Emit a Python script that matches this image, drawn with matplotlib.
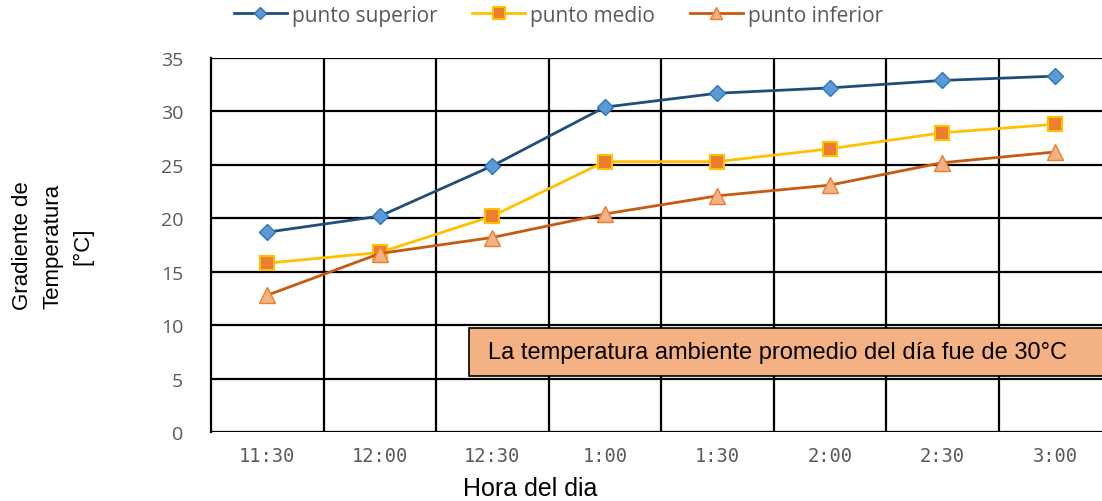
import matplotlib.pyplot as plt
from matplotlib.patches import Rectangle

# datos de temperatura por hora
horas = ['11:30', '12:00', '12:30', '1:00', '1:30', '2:00', '2:30', '3:00']
punto_superior = [18.7, 20.2, 24.9, 30.4, 31.7, 32.2, 32.9, 33.3]
punto_medio = [15.8, 16.8, 20.2, 25.3, 25.3, 26.5, 28.0, 28.8]
punto_inferior = [12.8, 16.7, 18.2, 20.4, 22.1, 23.1, 25.2, 26.2]
y_ticks = [0, 5, 10, 15, 20, 25, 30, 35]

gray = '#595959'

fig = plt.figure(figsize=(11.02, 5.02), dpi=100)
ax = fig.add_axes([0.1915, 0.1375, 0.8167, 0.745])

x = range(len(horas))
ax.plot(x, punto_superior, color='#1F4E79', lw=2, marker='D', ms=8,
        mfc='#5B9BD5', mec='#2E75B6', mew=1, label='punto superior', zorder=5)
ax.plot(x, punto_medio, color='#FFC000', lw=2, marker='s', ms=10,
        mfc='#ED7D31', mec='#FFC000', mew=1.5, label='punto medio', zorder=5)
ax.plot(x, punto_inferior, color='#C55A11', lw=2, marker='^', ms=11,
        mfc='#F4B183', mec='#ED7D31', mew=1, label='punto inferior', zorder=5)

ax.set_xlim(-0.5, len(horas) - 0.5)
ax.set_ylim(0, 35)
ax.set_yticks(y_ticks)
ax.set_xticks(list(x))
ax.set_xticklabels(horas, family='DejaVu Sans Mono', fontsize=13.5, color=gray)
ax.set_yticklabels([str(v) for v in y_ticks], family='Open Sans', fontsize=14, color=gray)
ax.tick_params(axis='x', length=0, pad=10)
ax.tick_params(axis='y', length=0, pad=20)

# cuadricula: horizontales en cada tick, verticales entre categorias
for v in y_ticks:
    ax.axhline(v, color='black', lw=1.6, zorder=1)
for b in [i + 0.5 for i in range(len(horas) - 1)]:
    ax.axvline(b, color='black', lw=1.6, zorder=1)
for s in ['top', 'right', 'bottom']:
    ax.spines[s].set_visible(False)
ax.spines['left'].set_linewidth(1.6)

# nota sobre la temperatura ambiente
ax.add_patch(Rectangle((1.793, 5.24), 6.0, 4.49, facecolor='#F4B183',
                       edgecolor='black', lw=1.2, zorder=6, clip_on=False))
ax.text(1.962, 7.5, 'La temperatura ambiente promedio del día fue de 30°C',
        family='Liberation Sans', fontsize=17, va='center', ha='left', zorder=7)

fig.text(0.048, 0.51, 'Gradiente de\nTemperatura\n[°C]', rotation=90,
         family='Liberation Sans', fontsize=16, ha='center', va='center',
         linespacing=1.55)
fig.text(0.481, 0.026, 'Hora del dia', family='Liberation Sans', fontsize=18,
         ha='center', va='center')

handles, labels = ax.get_legend_handles_labels()
fig.legend(handles, labels, loc='center left', bbox_to_anchor=(0.212, 0.968), ncol=3,
           frameon=False, prop={'family': 'Open Sans', 'size': 15},
           labelcolor=gray, handlelength=2.55, handletextpad=0.25, columnspacing=1.65,
           markerscale=0.8, borderaxespad=0, borderpad=0)

fig.savefig('out.png', dpi=100)
